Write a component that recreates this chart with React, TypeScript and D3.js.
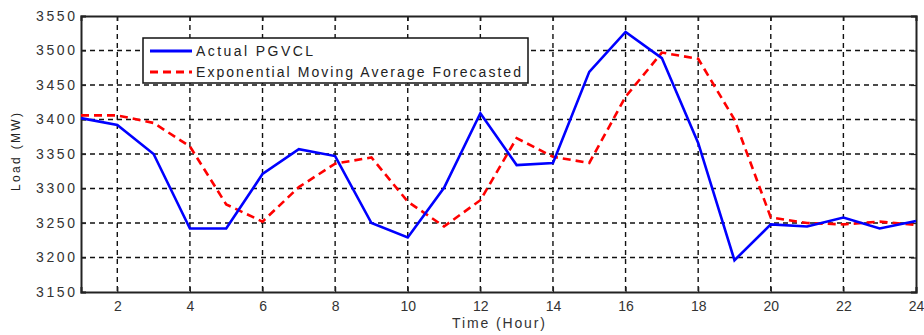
import React, { useEffect, useRef } from "react";
import * as d3 from "d3";

const hours = [1, 2, 3, 4, 5, 6, 7, 8, 9, 10, 11, 12, 13, 14, 15, 16, 17, 18, 19, 20, 21, 22, 23, 24];
const actualLoad = [3402, 3392, 3350, 3242, 3242, 3321, 3357, 3347, 3250, 3229, 3301, 3409, 3334, 3337, 3469, 3527, 3489, 3366, 3196, 3248, 3245, 3258, 3242, 3253];
const emaLoad = [3406, 3406, 3395, 3361, 3277, 3252, 3302, 3336, 3345, 3281, 3245, 3283, 3373, 3346, 3337, 3433, 3497, 3488, 3400, 3258, 3250, 3248, 3252, 3247];
const xTicks = [2, 4, 6, 8, 10, 12, 14, 16, 18, 20, 22, 24];
const yTicks = [3150, 3200, 3250, 3300, 3350, 3400, 3450, 3500, 3550];
const seriesNames = ["Actual PGVCL", "Exponential Moving Average Forecasted"];

const W = 924;
const H = 335;
const margin = { top: 16, right: 8, bottom: 43, left: 81 };

const App = () => {
  const svgRef = useRef<SVGSVGElement>(null);

  useEffect(() => {
    const svg = d3.select(svgRef.current);
    svg.selectAll("*").remove();

    const x = d3.scaleLinear().domain([1, 24]).range([margin.left, W - margin.right]);
    const y = d3.scaleLinear().domain([3150, 3550]).range([H - margin.bottom, margin.top]);
    const font = "'Liberation Sans', Arial, sans-serif";

    // grid
    const grid = svg.append("g").attr("stroke", "#111").attr("stroke-width", 1.4).attr("stroke-dasharray", "5,4");
    grid
      .selectAll("line.v")
      .data(xTicks.filter((t) => t < 24))
      .enter()
      .append("line")
      .attr("x1", (d) => x(d))
      .attr("x2", (d) => x(d))
      .attr("y1", y(3550))
      .attr("y2", y(3150));
    grid
      .selectAll("line.h")
      .data(yTicks.filter((t) => t > 3150 && t < 3550))
      .enter()
      .append("line")
      .attr("x1", x(1))
      .attr("x2", x(24))
      .attr("y1", (d) => y(d))
      .attr("y2", (d) => y(d));

    // axes
    const axL = svg.append("g").attr("transform", `translate(${margin.left},0)`)
      .call(d3.axisLeft(y).tickValues(yTicks).tickSize(-5).tickPadding(6).tickFormat(d3.format("d")));
    const axB = svg.append("g").attr("transform", `translate(0,${H - margin.bottom})`)
      .call(d3.axisBottom(x).tickValues(xTicks).tickSize(-5).tickPadding(9).tickFormat(d3.format("d")));
    svg.append("g").attr("transform", `translate(${W - margin.right},0)`)
      .call(d3.axisRight(y).tickValues(yTicks).tickSize(-5).tickFormat(() => ""));
    svg.append("g").attr("transform", `translate(0,${margin.top})`)
      .call(d3.axisTop(x).tickValues(xTicks).tickSize(-5).tickFormat(() => ""));
    svg.selectAll(".domain").attr("stroke", "#222").attr("stroke-width", 2);
    svg.selectAll(".tick line").attr("stroke", "#222").attr("stroke-width", 1.2);
    [axL, axB].forEach((a) =>
      a.selectAll("text").attr("font-family", font).attr("font-size", 14).attr("fill", "#333")
    );
    axL.selectAll("text").attr("textLength", 39).attr("lengthAdjust", "spacing");

    // lines
    const line = d3
      .line<number>()
      .x((_, i) => x(hours[i]))
      .y((d) => y(d));
    svg.append("path").datum(emaLoad).attr("d", line).attr("fill", "none")
      .attr("stroke", "#ff0000").attr("stroke-width", 2.6).attr("stroke-dasharray", "8,5");
    svg.append("path").datum(actualLoad).attr("d", line).attr("fill", "none")
      .attr("stroke", "#0000ff").attr("stroke-width", 2.6);

    // legend
    const lg = svg.append("g");
    lg.append("rect").attr("x", 143).attr("y", 38).attr("width", 385).attr("height", 45)
      .attr("fill", "#fff").attr("stroke", "#111").attr("stroke-width", 1.5);
    const colors = ["#0000ff", "#ff0000"];
    const widths = [117, 325];
    seriesNames.forEach((name, i) => {
      const ly = 51 + i * 21;
      lg.append("line").attr("x1", 150).attr("x2", 192).attr("y1", ly).attr("y2", ly)
        .attr("stroke", colors[i]).attr("stroke-width", 3)
        .attr("stroke-dasharray", i === 1 ? "8,5" : null);
      lg.append("text").attr("x", 196).attr("y", ly + 5).text(name)
        .attr("font-family", font).attr("font-size", 14).attr("fill", "#222")
        .attr("textLength", widths[i]).attr("lengthAdjust", "spacing");
    });

    // axis titles
    svg.append("text").attr("x", (x(1) + x(24)) / 2).attr("y", 328).attr("text-anchor", "middle")
      .attr("font-family", font).attr("font-size", 14).attr("fill", "#333")
      .attr("textLength", 93).attr("lengthAdjust", "spacing").text("Time (Hour)");
    svg.append("text").attr("transform", `translate(20,152) rotate(-90)`).attr("text-anchor", "middle")
      .attr("font-family", font).attr("font-size", 12).attr("fill", "#222")
      .attr("textLength", 78).attr("lengthAdjust", "spacing").text("Load (MW)");
  }, []);

  return (
    <svg ref={svgRef} width={W} height={H} style={{ position: "absolute", left: 0, top: 0, background: "#fff" }} />
  );
};

export default App;
